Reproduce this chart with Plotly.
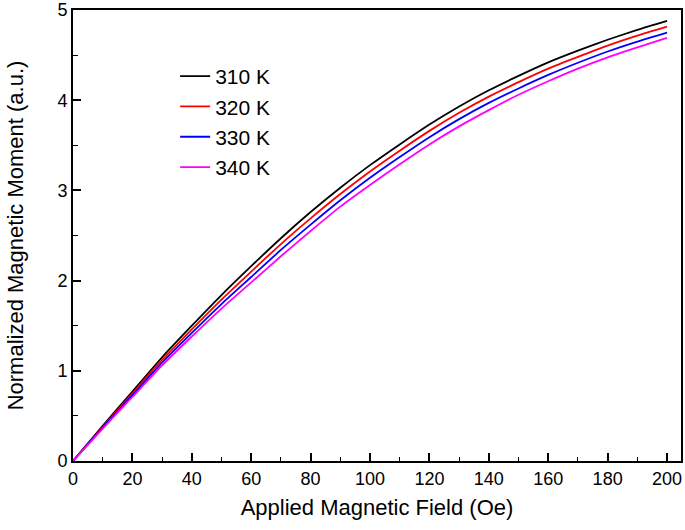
import plotly.graph_objects as go

field = [0, 10, 20, 30, 40, 50, 60, 70, 80, 90, 100, 110, 120, 130, 140, 150, 160, 170, 180, 190, 200]

m310 = [0, 0.39, 0.77, 1.15, 1.50, 1.84, 2.16, 2.47, 2.76, 3.03, 3.28, 3.51, 3.73, 3.93, 4.11, 4.27, 4.42, 4.55, 4.67, 4.78, 4.88]
m320 = [0, 0.38, 0.75, 1.12, 1.46, 1.79, 2.10, 2.405, 2.69, 2.96, 3.21, 3.44, 3.66, 3.86, 4.04, 4.20, 4.35, 4.48, 4.605, 4.715, 4.815]
m330 = [0, 0.37, 0.73, 1.09, 1.42, 1.74, 2.04, 2.34, 2.62, 2.89, 3.14, 3.37, 3.59, 3.79, 3.97, 4.13, 4.28, 4.415, 4.54, 4.65, 4.75]
m340 = [0, 0.36, 0.71, 1.06, 1.38, 1.69, 1.98, 2.27, 2.55, 2.82, 3.06, 3.29, 3.51, 3.71, 3.89, 4.06, 4.21, 4.35, 4.475, 4.585, 4.69]

labels = ["310 K", "320 K", "330 K", "340 K"]
colors = ["#000000", "#ff0000", "#0000ff", "#ff00ff"]
series = [m310, m320, m330, m340]

fig = go.Figure()
for lab, col, ys in zip(labels, colors, series):
    fig.add_trace(go.Scatter(x=field, y=ys, mode="lines", name=lab,
                             line=dict(color=col, width=1.8, shape="spline", smoothing=0.6)))

font_family = "Liberation Sans, Arial, sans-serif"
axis_common = dict(
    showline=True, linecolor="black", linewidth=2, mirror=True,
    ticks="inside", ticklen=8, tickwidth=1.6, tickcolor="black",
    showgrid=False, zeroline=False, automargin=False,
    tickfont=dict(family=font_family, size=18, color="black"),
)

fig.update_layout(
    width=685, height=530,
    margin=dict(l=73, r=4, t=10, b=69),
    paper_bgcolor="white", plot_bgcolor="white",
    font=dict(family=font_family, color="black"),
    showlegend=True,
    legend=dict(x=0.168, y=0.898, xanchor="left", yanchor="top",
                bgcolor="rgba(0,0,0,0)", borderwidth=0,
                font=dict(family=font_family, size=21, color="black"),
                tracegroupgap=0),
    xaxis=dict(range=[0, 204.7], dtick=20, tick0=0,
               minor=dict(dtick=10, ticks="inside", ticklen=4.5, tickwidth=1.4, tickcolor="black"),
               title=dict(text="Applied Magnetic Field (Oe)", font=dict(family=font_family, size=22), standoff=12),
               **axis_common),
    yaxis=dict(range=[0, 5], dtick=1, tick0=0,
               minor=dict(dtick=0.5, ticks="inside", ticklen=4.5, tickwidth=1.4, tickcolor="black"),
               title=dict(text="Normalized Magnetic Moment (a.u.)", font=dict(family=font_family, size=22), standoff=28),
               **axis_common),
)

fig.write_html("out.html", config={"displayModeBar": False},
               post_script="document.body.style.margin='0';")
